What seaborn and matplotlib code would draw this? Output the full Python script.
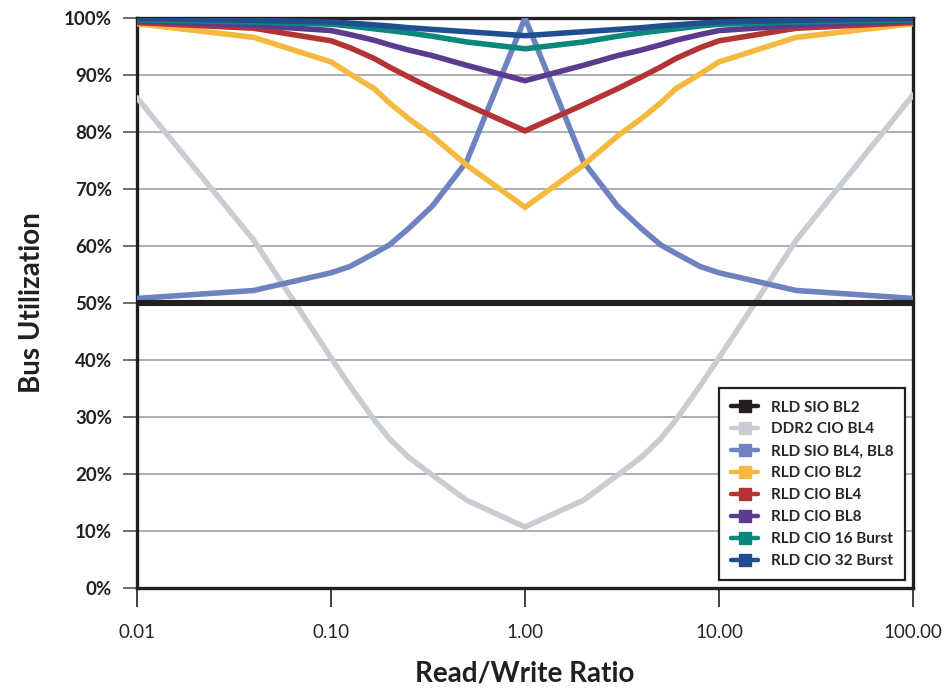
import matplotlib
matplotlib.use("Agg")
import matplotlib.pyplot as plt
from matplotlib.lines import Line2D
import seaborn as sns
import pandas as pd

# Read/Write ratio (x) values
ratios = [0.01, 0.04, 0.1, 0.125, 0.167, 0.2, 0.25, 0.333, 0.5, 1.0,
          2.0, 3.0, 4.0, 5.0, 6.0, 8.0, 10.0, 25.0, 100.0]

series_names = ["RLD SIO BL2", "DDR2 CIO BL4", "RLD SIO BL4, BL8", "RLD CIO BL2",
                "RLD CIO BL4", "RLD CIO BL8", "RLD CIO 16 Burst", "RLD CIO 32 Burst"]

rld_sio_bl2 = [50, 50, 50, 50, 50, 50, 50, 50, 50, 50,
               50, 50, 50, 50, 50, 50, 50, 50, 50]
ddr2_cio_bl4 = [86, 61, 40.4, 35.5, 29.5, 26.2, 23, 19.8, 15.4, 10.7,
                15.4, 19.8, 23, 26.2, 29.5, 35.5, 40.4, 61, 86.5]
rld_sio_bl4_bl8 = [50.8, 52.2, 55.3, 56.4, 58.7, 60.2, 63, 67, 74.8, 100,
                   74.8, 67, 63, 60.2, 58.7, 56.4, 55.3, 52.2, 50.8]
rld_cio_bl2 = [99, 96.6, 92.3, 90.2, 87.6, 85.1, 82.4, 79.3, 74.2, 66.8,
               74.2, 79.3, 82.4, 85.1, 87.6, 90.2, 92.3, 96.6, 99]
rld_cio_bl4 = [99.2, 98.2, 96, 94.8, 92.9, 91.4, 89.7, 87.6, 84.8, 80.2,
               84.8, 87.6, 89.7, 91.4, 92.9, 94.8, 96, 98.2, 99.2]
rld_cio_bl8 = [99.5, 98.7, 97.8, 97.1, 96.1, 95.3, 94.4, 93.4, 91.7, 89.0,
               91.7, 93.4, 94.4, 95.3, 96.1, 97.1, 97.8, 98.7, 99.5]
rld_cio_16 = [99.7, 99.3, 98.9, 98.6, 98.1, 97.8, 97.4, 96.8, 95.8, 94.6,
              95.8, 96.8, 97.4, 97.8, 98.1, 98.6, 98.9, 99.3, 99.7]
rld_cio_32 = [99.9, 99.6, 99.3, 99.1, 98.8, 98.6, 98.3, 98.0, 97.6, 96.9,
              97.6, 98.0, 98.3, 98.6, 98.8, 99.1, 99.3, 99.6, 99.9]

all_values = [rld_sio_bl2, ddr2_cio_bl4, rld_sio_bl4_bl8, rld_cio_bl2,
              rld_cio_bl4, rld_cio_bl8, rld_cio_16, rld_cio_32]

x_tick_vals = [0.01, 0.1, 1, 10, 100]
x_tick_labels = ["0.01", "0.10", "1.00", "10.00", "100.00"]
y_tick_vals = list(range(0, 101, 10))
y_tick_labels = [f"{v}%" for v in y_tick_vals]

colors = ["#231f20", "#c9ccd2", "#6f82c0", "#f5b940", "#b43434",
          "#5c3a8d", "#0b877c", "#1f4f90"]

rows = []
for name, vals in zip(series_names, all_values):
    for r, v in zip(ratios, vals):
        rows.append({"ratio": r, "util": v, "series": name})
df = pd.DataFrame(rows)

sns.set_theme(style="white")
plt.rcParams["font.family"] = ["Lato", "DejaVu Sans"]

fig = plt.figure(figsize=(9.5, 6.88), dpi=100)
ax = fig.add_axes([137 / 950, 1 - 588 / 688, (913 - 137) / 950, (588 - 18) / 688])

palette = dict(zip(series_names, colors))
draw_order = series_names[1:] + series_names[:1]
for name in draw_order:
    sub = df[df["series"] == name]
    sns.lineplot(data=sub, x="ratio", y="util", color=palette[name],
                 linewidth=4.0 if name != "RLD SIO BL2" else 4.4,
                 estimator=None, sort=False, ax=ax, legend=False,
                 zorder=5 if name == "RLD SIO BL2" else 3,
                 solid_joinstyle="miter")

ax.set_xscale("log")
ax.set_xlim(0.01, 100)
ax.set_ylim(0, 100)
ax.set_xticks(x_tick_vals)
ax.set_xticklabels(x_tick_labels, fontsize=13.5)
ax.minorticks_off()
ax.set_yticks(y_tick_vals)
ax.set_yticklabels(y_tick_labels, fontsize=13.5, fontweight="bold", color="#231f20")

ax.yaxis.grid(True, color="#a9adb4", linewidth=1.4)
ax.xaxis.grid(False)
ax.set_axisbelow(True)

for sp in ax.spines.values():
    sp.set_color("#231f20")
    sp.set_linewidth(2.4)
    sp.set_visible(True)

ax.tick_params(axis="y", which="major", direction="out", length=10, width=1.2,
               color="#555555", pad=8, left=True)
ax.tick_params(axis="x", which="major", direction="out", length=14, width=1.2,
               color="#231f20", pad=12, bottom=True)

ax.set_xlabel("Read/Write Ratio", fontsize=20, fontweight="bold", color="#231f20", labelpad=14)
ax.set_ylabel("Bus Utilization", fontsize=20, fontweight="bold", color="#231f20", labelpad=14)

handles = [Line2D([0], [0], color=c, lw=3.2, marker="s", markersize=8,
                  markerfacecolor=c, markeredgecolor=c) for c in colors]
leg = ax.legend(handles, series_names, loc="lower right", frameon=True,
                fancybox=False, shadow=False, borderaxespad=0.5,
                prop={"family": ["Lato", "DejaVu Sans"], "weight": "bold", "size": 11},
                handlelength=1.8, handletextpad=0.8, labelspacing=0.52,
                borderpad=0.8)
leg.get_frame().set_edgecolor("#231f20")
leg.get_frame().set_linewidth(1.6)
leg.get_frame().set_facecolor("white")
leg.get_frame().set_alpha(1)
leg.set_zorder(10)

fig.savefig("out.png", dpi=100)
